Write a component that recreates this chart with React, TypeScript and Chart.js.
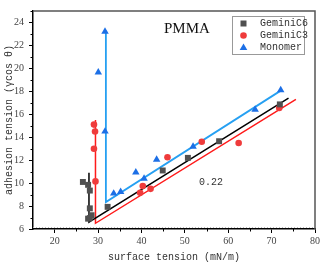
import React, { useEffect, useRef } from "react";
import { Chart, registerables } from "chart.js";

Chart.register(...registerables);

const c6X = [26.5, 27.7, 28.1, 28.1, 28.5, 27.7, 28.1, 32.2, 44.9, 50.7, 57.9, 71.9];
const c6Y = [10.1, 9.85, 9.35, 7.8, 7.2, 6.9, 6.95, 7.93, 11.1, 12.2, 13.65, 16.86];

const c3X = [29.05, 29.3, 29.05, 29.4, 39.7, 40.3, 42.1, 46.0, 53.9, 62.4, 71.75];
const c3Y = [15.1, 14.5, 13.0, 10.15, 9.15, 9.75, 9.5, 12.25, 13.6, 13.5, 16.55];

const monoX = [31.6, 30.05, 31.6, 33.6, 35.2, 38.7, 40.6, 43.5, 51.9, 66.2, 72.1];
const monoY = [23.2, 19.65, 14.5, 9.1, 9.24, 10.94, 10.4, 12.05, 13.18, 16.4, 18.1];

const c6LineX = [27.9, 27.9, 73.9];
const c6LineY = [10.9, 6.6, 17.4];
const c3LineX = [29.4, 29.4, 75.6];
const c3LineY = [15.5, 6.5, 17.3];
const monoLineX = [31.8, 31.8, 72.1];
const monoLineY = [23.3, 8.35, 18.06];

const seriesNames = ["GeminiC6", "GeminiC3", "Monomer"];
const xMinor = [25, 35, 45, 55, 65, 75];
const yMinor = [7, 9, 11, 13, 15, 17, 19, 21, 23, 25];

const GRAY = "#505050";
const RED = "#ef3b3b";
const BLUE = "#1c6fe6";

const pts = (xs: number[], ys: number[]) => xs.map((x, i) => ({ x, y: ys[i] }));

function drawMarker(ctx: CanvasRenderingContext2D, kind: string, x: number, y: number, color: string) {
  ctx.fillStyle = color;
  ctx.beginPath();
  if (kind === "rect") {
    ctx.rect(x - 3, y - 3, 6, 6);
  } else if (kind === "circle") {
    ctx.arc(x, y, 3.3, 0, Math.PI * 2);
  } else {
    ctx.moveTo(x, y - 4);
    ctx.lineTo(x + 3.8, y + 2.6);
    ctx.lineTo(x - 3.8, y + 2.6);
    ctx.closePath();
  }
  ctx.fill();
}

const extras = {
  id: "extras",
  afterDraw(chart: any) {
    const { ctx, chartArea: a, scales } = chart;
    const x = scales.x;
    const y = scales.y;
    ctx.save();
    // faint dotted line along the bottom
    ctx.strokeStyle = "#bbb";
    ctx.lineWidth = 1;
    ctx.setLineDash([1, 2]);
    ctx.beginPath();
    ctx.moveTo(a.left, a.bottom - 1.5);
    ctx.lineTo(a.right, a.bottom - 1.5);
    ctx.stroke();
    ctx.setLineDash([]);
    // minor ticks
    ctx.strokeStyle = "#000";
    ctx.lineWidth = 1;
    ctx.beginPath();
    xMinor.forEach((v) => {
      const px = Math.round(x.getPixelForValue(v)) + 0.5;
      ctx.moveTo(px, a.bottom);
      ctx.lineTo(px, a.bottom + 2.5);
    });
    yMinor.forEach((v) => {
      const py = Math.round(y.getPixelForValue(v)) + 0.5;
      ctx.moveTo(a.left - 2.5, py);
      ctx.lineTo(a.left, py);
    });
    ctx.stroke();
    // top & right border
    ctx.strokeStyle = "#555";
    ctx.lineWidth = 1.5;
    ctx.beginPath();
    ctx.moveTo(a.left, a.top);
    ctx.lineTo(a.right, a.top);
    ctx.lineTo(a.right, a.bottom);
    ctx.stroke();
    // legend
    const lx = 232, ly = 16, lw = 72, lh = 38;
    ctx.strokeStyle = "#999";
    ctx.lineWidth = 1;
    ctx.strokeRect(lx + 0.5, ly + 0.5, lw, lh);
    const kinds = ["rect", "circle", "triangle"];
    const cols = [GRAY, RED, BLUE];
    ctx.font = "10px 'Liberation Mono'";
    ctx.textBaseline = "middle";
    ctx.textAlign = "left";
    seriesNames.forEach((n, i) => {
      const yy = ly + 7.5 + i * 12;
      drawMarker(ctx, kinds[i], lx + 11.5, yy, cols[i]);
      ctx.fillStyle = "#333";
      ctx.fillText(n, lx + 28, yy);
    });
    // annotations
    ctx.fillStyle = "#111";
    ctx.font = "15px 'Liberation Serif'";
    ctx.textAlign = "left";
    ctx.fillText("PMMA", 164, 29);
    ctx.fillStyle = "#333";
    ctx.font = "10px 'Liberation Mono'";
    ctx.fillText("0.22", 199, 182);
    ctx.restore();
  },
};

export default function App() {
  const ref = useRef<HTMLCanvasElement>(null);
  useEffect(() => {
    document.body.style.margin = "0";
    const tickFont = { family: "'Liberation Serif'", size: 10 };
    const titleFont = { family: "'Liberation Mono'", size: 10 };
    const chart = new Chart(ref.current!, {
      type: "scatter",
      data: {
        datasets: [
          { label: seriesNames[0], data: pts(c6X, c6Y), pointStyle: "rect", pointRadius: 4.2, backgroundColor: GRAY, borderWidth: 0, order: 1 },
          { label: seriesNames[1], data: pts(c3X, c3Y), pointStyle: "circle", pointRadius: 3.3, backgroundColor: RED, borderWidth: 0, order: 1 },
          { label: seriesNames[2], data: pts(monoX, monoY), pointStyle: "triangle", pointRadius: 4.3, backgroundColor: BLUE, borderWidth: 0, order: 1 },
          { label: "l1", data: pts(c6LineX, c6LineY), showLine: true, pointRadius: 0, borderColor: "#000", borderWidth: 1.5, order: 2 },
          { label: "l2", data: pts(c3LineX, c3LineY), showLine: true, pointRadius: 0, borderColor: "#ff1a1a", borderWidth: 1.5, order: 2 },
          { label: "l3", data: pts(monoLineX, monoLineY), showLine: true, pointRadius: 0, borderColor: "#26a0f2", borderWidth: 1.8, order: 2 },
        ],
      } as any,
      options: {
        responsive: false,
        animation: false,
        layout: { padding: { top: 2, right: 7, left: 0, bottom: 0 } },
        plugins: { legend: { display: false }, tooltip: { enabled: false } },
        scales: {
          x: {
            type: "linear",
            min: 15,
            max: 80,
            afterBuildTicks: (s: any) => {
              s.ticks = s.ticks.filter((t: any) => t.value % 10 === 0);
            },
            afterFit: (s: any) => {
              s.height = 34;
            },
            ticks: { stepSize: 10, color: "#444", font: tickFont, padding: 2, maxRotation: 0 },
            grid: { drawOnChartArea: false, drawTicks: true, tickLength: 4, tickColor: "#000", tickWidth: 1 },
            border: { color: "#000", width: 1.5 },
            title: { display: true, text: "surface tension (mN/m)", color: "#333", font: titleFont, padding: { top: 0, bottom: 0 } },
          },
          y: {
            type: "linear",
            min: 6,
            max: 25,
            afterBuildTicks: (s: any) => {
              s.ticks = s.ticks.filter((t: any) => t.value % 2 === 0);
            },
            afterFit: (s: any) => {
              s.width = 33;
            },
            ticks: { stepSize: 2, color: "#444", font: tickFont, padding: 5 },
            grid: { drawOnChartArea: false, drawTicks: true, tickLength: 4, tickColor: "#000", tickWidth: 1 },
            border: { color: "#000", width: 1.5 },
            title: { display: true, text: "adhesion tension (γcos θ)", color: "#333", font: titleFont, padding: { top: 3, bottom: 0 } },
          },
        },
      },
      plugins: [extras],
    });
    return () => chart.destroy();
  }, []);
  return (
    <div style={{ position: "absolute", left: 0, top: 0 }}>
      <canvas ref={ref} width={322} height={263} style={{ display: "block" }} />
    </div>
  );
}
